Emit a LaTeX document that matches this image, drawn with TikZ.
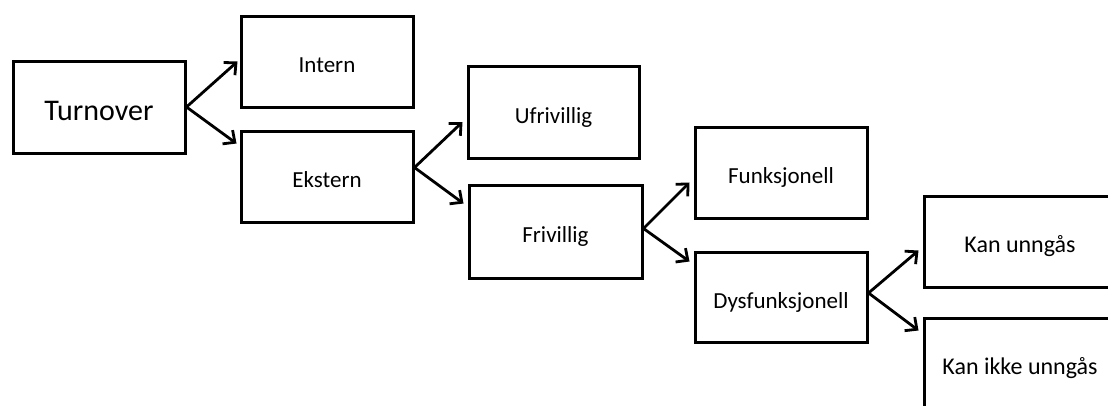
\documentclass[tikz,border=0pt]{standalone}
\usepackage{fontspec}
\setmainfont{Carlito}
\usetikzlibrary{arrows.meta}
\begin{document}
\begin{tikzpicture}[x=1pt,y=-1pt,
  box/.style={draw=black, line width=3pt, rectangle, inner sep=0pt,
    minimum width=172pt, minimum height=91pt, text height=22pt, text depth=0pt,
    font=\fontsize{23}{26}\selectfont},
  bigbox/.style={box, text height=26pt, font=\fontsize{30}{33}\selectfont},
  link/.style={line width=2.8pt, -{Straight Barb[length=9pt,width=17pt,line width=2.8pt]}}]
  \useasboundingbox (0,0) rectangle (1108,405);
  \clip (0,0) rectangle (1108,405);

  % boxes of the tree
  \node[bigbox, minimum height=92pt] (turn) at (99,107) {Turnover};
  \node[box] (intern) at (327,61.5) {Intern};
  \node[box] (ekst) at (327,176.5) {Ekstern};
  \node[box, minimum width=171pt, minimum height=92pt] (ufri) at (553.5,112) {Ufrivillig};
  \node[box, minimum width=173pt, minimum height=93pt] (fri) at (555.5,231.5) {Frivillig};
  \node[box] (funk) at (781,172.5) {Funksjonell};
  \node[box, minimum height=90pt] (dys) at (781,297) {Dysfunksjonell};
  \node[box, minimum width=192pt, font=\fontsize{24}{27}\selectfont] (kan) at (1020,241.5) {Kan unngås};
  \node[box, minimum width=192pt, font=\fontsize{24}{27}\selectfont] (ikke) at (1020,363.5) {Kan ikke unngås};

  % branching arrows
  \draw[link] (turn.east) -- ([xshift=-2pt]intern.west);
  \draw[link] (turn.east) -- ([xshift=-3pt,yshift=-14pt]ekst.north west);
  \draw[link] ([yshift=9pt]ekst.east) -- ([xshift=-4pt,yshift=-10pt]ufri.west);
  \draw[link] ([yshift=9pt]ekst.east) -- ([xshift=-4pt,yshift=-20pt]fri.north west);
  \draw[link] ([yshift=3pt]fri.east) -- ([xshift=-4pt,yshift=-10pt]funk.west);
  \draw[link] ([yshift=3pt]fri.east) -- ([xshift=-4pt,yshift=-11pt]dys.north west);
  \draw[link] ([yshift=4pt]dys.east) -- ([xshift=-4pt,yshift=-9pt]kan.west);
  \draw[link] ([yshift=4pt]dys.east) -- ([xshift=-4pt,yshift=-14pt]ikke.north west);
\end{tikzpicture}
\end{document}
